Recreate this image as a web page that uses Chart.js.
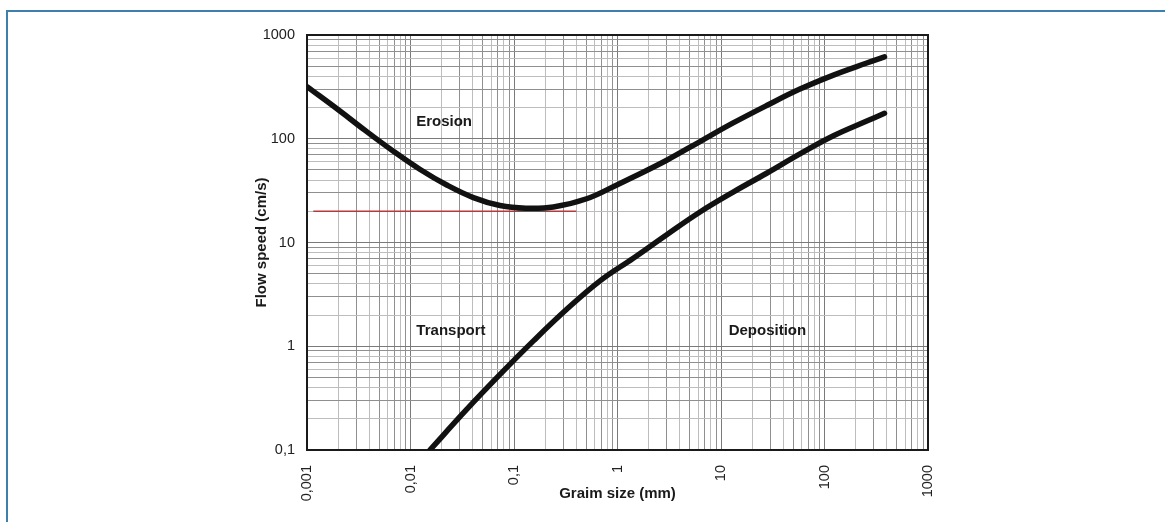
<!DOCTYPE html>
<html>
<head>
<meta charset="utf-8">
<script src="https://cdn.jsdelivr.net/npm/chart.js@4.4.1/dist/chart.umd.min.js"></script>
<style>
html,body{margin:0;padding:0;background:#fff;overflow:hidden;width:1165px;height:522px;}
#frame{position:absolute;left:6px;top:10px;width:1300px;height:600px;border-top:2px solid #3f7fab;border-left:2px solid #3f7fab;}
#c{position:absolute;left:0;top:0;}
</style>
</head>
<body>
<div id="frame"></div>
<canvas id="c" width="1165" height="522"></canvas>
<script>
// ---- data ----
const xDecades = [0.001, 0.01, 0.1, 1, 10, 100, 1000];
const xDecadeLabels = ['0,001', '0,01', '0,1', '1', '10', '100', '1000'];
const yDecades = [0.1, 1, 10, 100, 1000];
const yDecadeLabels = ['0,1', '1', '10', '100', '1000'];

const erosionX = [0.001, 0.00208, 0.00378, 0.00683, 0.0124, 0.0224, 0.0405, 0.0733, 0.13, 0.24, 0.503, 1.02, 1.42, 2.99, 6.27, 13.1, 27.6, 57.9, 122, 256, 380];
const erosionY = [318, 185, 117, 75.8, 50.5, 35.8, 27.1, 22.7, 21.4, 22.0, 26.4, 36.5, 42.8, 62.1, 94, 142, 209, 301, 411, 537, 615];

const depositionX = [0.0154, 0.0349, 0.0733, 0.154, 0.323, 0.678, 1.42, 2.99, 6.27, 13.1, 27.6, 57.9, 122, 256, 380];
const depositionY = [0.1, 0.246, 0.535, 1.126, 2.27, 4.27, 7.06, 11.9, 19.7, 30.6, 46.5, 71.4, 106.7, 148, 176];

const referenceX = [0.00115, 0.4];
const referenceY = [20, 20];

const regionNames = ['Erosion', 'Transport', 'Deposition'];
const regionX = [0.0211, 0.0246, 28.1];
const regionY = [145, 1.40, 1.40];

const xTitle = 'Graim size (mm)';
const yTitle = 'Flow speed (cm/s)';

// ---- helpers ----
const FONT = "'Liberation Sans', Arial, Helvetica, sans-serif";
function logGrid(decades) {
  const out = [];
  decades.forEach((d, i) => {
    if (i === decades.length - 1) { out.push(d); return; }
    for (let m = 1; m <= 9; m++) out.push(+(m * d).toPrecision(3));
  });
  return out;
}
function decadeIndex(v, decades) {
  return decades.findIndex(d => Math.abs(Math.log10(v) - Math.log10(d)) < 1e-6);
}
function gridColor(ctx, decades) {
  const v = ctx.tick && ctx.tick.value;
  if (v === undefined) return '#999';
  if (decadeIndex(v, decades) >= 0) return '#7a7a7a';
  const exp = Math.floor(Math.log10(v) + 1e-9);
  const sig = Math.round(v / Math.pow(10, exp));
  return (sig % 2 === 0) ? '#bdbdbd' : '#8f8f8f';
}
const xGrid = logGrid(xDecades);
const yGrid = logGrid(yDecades);
const pts = (xs, ys) => xs.map((x, i) => ({x: x, y: ys[i]}));

const framePlugin = {
  id: 'plotFrame',
  beforeDatasetsDraw(chart) {
    const {ctx, chartArea: a} = chart;
    ctx.save();
    ctx.strokeStyle = '#1a1a1a';
    ctx.lineWidth = 2;
    ctx.strokeRect(a.left, a.top, a.right - a.left, a.bottom - a.top);
    ctx.restore();
  }
};
const regionPlugin = {
  id: 'regionLabels',
  afterDatasetsDraw(chart) {
    const {ctx, scales: {x, y}} = chart;
    ctx.save();
    ctx.font = 'bold 15px ' + FONT;
    ctx.fillStyle = '#1a1a1a';
    ctx.textAlign = 'center';
    ctx.textBaseline = 'middle';
    regionNames.forEach((t, i) => {
      ctx.fillText(t, x.getPixelForValue(regionX[i]), y.getPixelForValue(regionY[i]));
    });
    ctx.restore();
  }
};

new Chart(document.getElementById('c'), {
  type: 'line',
  data: {
    datasets: [
      {label: 'Erosion', data: pts(erosionX, erosionY), borderColor: '#111', borderWidth: 5.5,
       pointRadius: 0, tension: 0.4, borderCapStyle: 'round', borderJoinStyle: 'round', fill: false},
      {label: 'Deposition', data: pts(depositionX, depositionY), borderColor: '#111', borderWidth: 5.5,
       pointRadius: 0, tension: 0.4, borderCapStyle: 'round', borderJoinStyle: 'round', fill: false},
      {label: 'Reference', data: pts(referenceX, referenceY), borderColor: '#e3262b', borderWidth: 1.6,
       pointRadius: 0, tension: 0, fill: false}
    ]
  },
  options: {
    responsive: false,
    animation: false,
    devicePixelRatio: 1,
    layout: {padding: {left: 0, top: 35, right: 237, bottom: 0}},
    plugins: {legend: {display: false}, tooltip: {enabled: false}},
    scales: {
      x: {
        type: 'logarithmic', min: 0.001, max: 1000,
        afterBuildTicks: s => { s.ticks = xGrid.map(v => ({value: v})); },
        afterFit: s => { s.height = 72; },
        ticks: {
          autoSkip: false, minRotation: 90, maxRotation: 90, padding: 15, color: '#222',
          font: {family: FONT, size: 14.5},
          callback: v => { const i = decadeIndex(v, xDecades); return i >= 0 ? xDecadeLabels[i] : ''; }
        },
        grid: {drawTicks: false, lineWidth: 1, color: ctx => gridColor(ctx, xDecades)},
        border: {display: false},
        title: {display: true, text: xTitle, color: '#1a1a1a',
                font: {family: FONT, size: 15, weight: 'bold'}, padding: {top: 0, bottom: 19.5}}
      },
      y: {
        type: 'logarithmic', min: 0.1, max: 1000,
        afterBuildTicks: s => { s.ticks = yGrid.map(v => ({value: v})); },
        afterFit: s => { s.width = 307; },
        ticks: {
          autoSkip: false, padding: 12, color: '#222',
          font: {family: FONT, size: 14.5},
          callback: v => { const i = decadeIndex(v, yDecades); return i >= 0 ? yDecadeLabels[i] : ''; }
        },
        grid: {drawTicks: false, lineWidth: 1, color: ctx => gridColor(ctx, yDecades)},
        border: {display: false},
        title: {display: true, text: yTitle, color: '#1a1a1a',
                font: {family: FONT, size: 15, weight: 'bold'}, padding: {top: 252.5, bottom: 0}}
      }
    }
  },
  plugins: [framePlugin, regionPlugin]
});
</script>
</body>
</html>
